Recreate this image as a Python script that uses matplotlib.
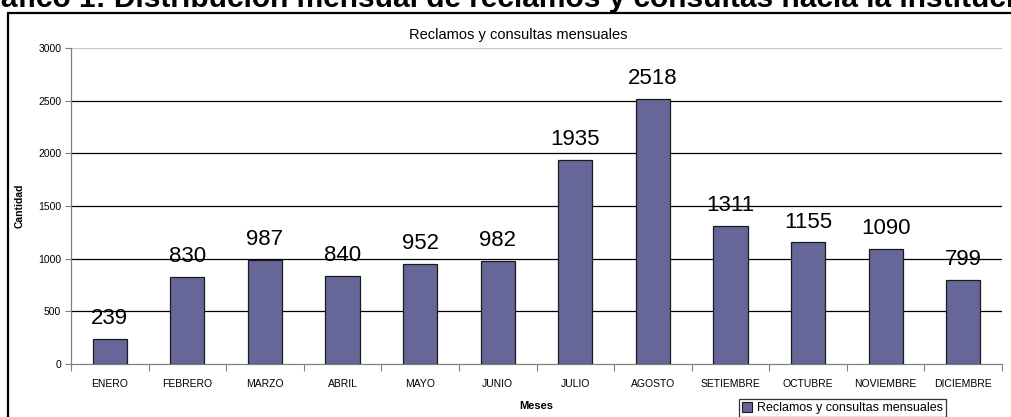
import matplotlib
matplotlib.use('Agg')
import matplotlib.pyplot as plt
import matplotlib.patches as mpatches

plt.rcParams['font.family'] = ['Liberation Sans', 'DejaVu Sans']

meses = ['ENERO', 'FEBRERO', 'MARZO', 'ABRIL', 'MAYO', 'JUNIO', 'JULIO',
         'AGOSTO', 'SETIEMBRE', 'OCTUBRE', 'NOVIEMBRE', 'DICIEMBRE']
cantidad = [239, 830, 987, 840, 952, 982, 1935, 2518, 1311, 1155, 1090, 799]
y_ticks = [0, 500, 1000, 1500, 2000, 2500, 3000]

W, H = 1012, 417
fig = plt.figure(figsize=(W / 100, H / 100), dpi=100)
fig.patch.set_facecolor('white')

# document caption above the chart frame (runs past the page top)
fig.text(-34 / W, 1 - 7 / H,
         'Gráfico 1: Distribución mensual de reclamos y consultas hacia la institución',
         ha='left', va='baseline', fontsize=21.5, fontweight='bold', color='black')

# chart area frame
frame = mpatches.Rectangle((8 / W, -0.1), 1.2, 1 - 13 / H + 0.1,
                           transform=fig.transFigure, fill=False,
                           edgecolor='black', linewidth=1.6)
fig.add_artist(frame)

ax = fig.add_axes([71 / W, 53 / H, 931 / W, 316 / H])
ax.set_facecolor('white')

x = range(len(meses))
bars = ax.bar(x, cantidad, width=0.44, color='#666699',
              edgecolor='#1a1a1a', linewidth=0.9, zorder=3)
for xi, v in zip(x, cantidad):
    ax.annotate(str(v), (xi, v), xytext=(0, 7), textcoords='offset points',
                ha='center', va='bottom', fontsize=16, color='black', zorder=4)

ax.set_xlim(-0.5, len(meses) - 0.5)
ax.set_ylim(0, 3000)
ax.set_yticks(y_ticks)
ax.set_yticklabels([str(t) for t in y_ticks], fontsize=7.5)
ax.set_xticks(list(x))
ax.set_xticklabels(meses, fontsize=7.5)
ax.tick_params(axis='x', length=0, pad=11)
ax.tick_params(axis='y', length=4, width=0.8, color='#808080', pad=3)

# category separators on the x axis
ax.set_xticks([i + 0.5 for i in range(-1, len(meses))], minor=True)
ax.tick_params(axis='x', which='minor', length=5, width=0.8, color='#808080')

for t in y_ticks[1:-1]:
    ax.axhline(t, color='black', linewidth=0.9, zorder=1)
ax.axhline(3000, color='#c8c8c8', linewidth=0.9, zorder=1)

for s in ('top', 'right'):
    ax.spines[s].set_visible(False)
ax.spines['left'].set_color('#808080')
ax.spines['bottom'].set_color('#808080')
ax.spines['left'].set_linewidth(0.9)
ax.spines['bottom'].set_linewidth(0.9)

ax.set_ylabel('Cantidad', fontsize=7.5, fontweight='bold')
ax.yaxis.set_label_coords(-46 / 931, 0.5)
ax.set_xlabel('Meses', fontsize=8, fontweight='bold')
ax.xaxis.set_label_coords(0.5, -37 / 316)

fig.text(518 / W, 1 - 35 / H, 'Reclamos y consultas mensuales',
         ha='center', va='center', fontsize=10.5)

leg = fig.legend(handles=[mpatches.Patch(facecolor='#666699', edgecolor='#1a1a1a',
                                         linewidth=0.8, label='Reclamos y consultas mensuales')],
                 loc='upper left', bbox_to_anchor=(739 / W, 1 - 399 / H),
                 fontsize=9, frameon=True, fancybox=False, borderpad=0.25,
                 handlelength=0.8, handleheight=0.8, handletextpad=0.4,
                 borderaxespad=0)
leg.get_frame().set_edgecolor('black')
leg.get_frame().set_linewidth(0.9)

fig.savefig('out.png', dpi=100, facecolor='white')
